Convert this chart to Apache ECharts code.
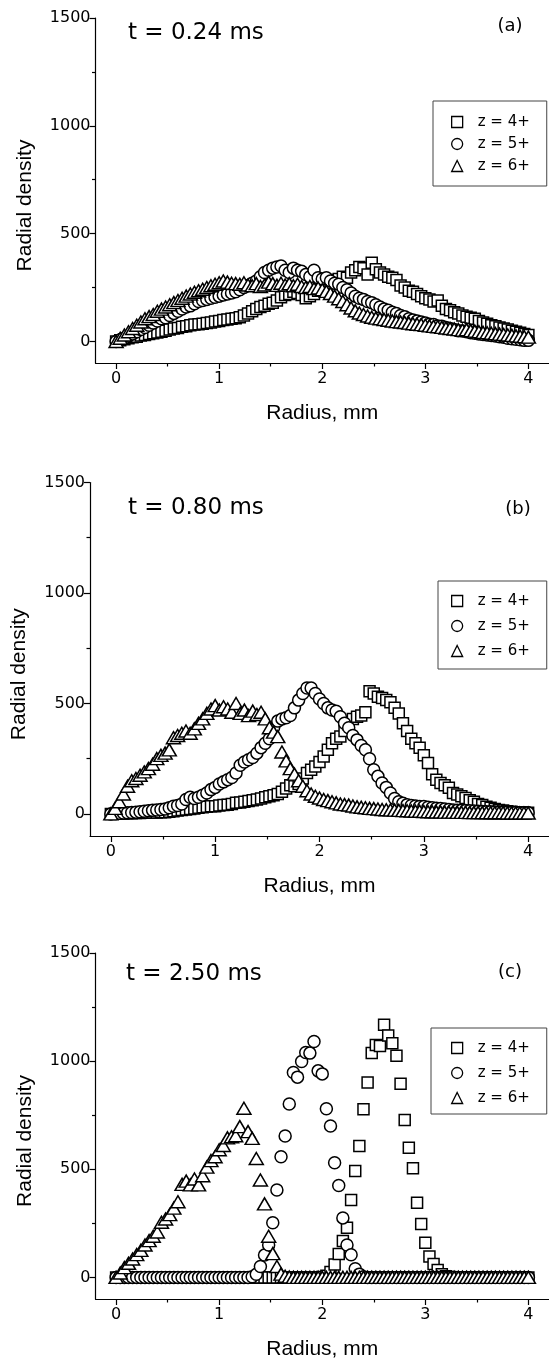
<!DOCTYPE html>
<html>
<head>
<meta charset="utf-8">
<script src="https://cdn.jsdelivr.net/npm/echarts@6/dist/echarts.min.js"></script>
<style>
  html, body { margin: 0; padding: 0; background: #fff; }
  #chart { width: 549px; height: 1361px; }
</style>
</head>
<body>
<div id="chart"></div>
<script>
// Sampling radii (mm), shared by every series
const RADIUS = [
  0.00, 0.04, 0.08, 0.12, 0.16, 0.20, 0.24, 0.28, 0.32, 0.36,
  0.40, 0.44, 0.48, 0.52, 0.56, 0.60, 0.64, 0.68, 0.72, 0.76,
  0.80, 0.84, 0.88, 0.92, 0.96, 1.00, 1.04, 1.08, 1.12, 1.16,
  1.20, 1.24, 1.28, 1.32, 1.36, 1.40, 1.44, 1.48, 1.52, 1.56,
  1.60, 1.64, 1.68, 1.72, 1.76, 1.80, 1.84, 1.88, 1.92, 1.96,
  2.00, 2.04, 2.08, 2.12, 2.16, 2.20, 2.24, 2.28, 2.32, 2.36,
  2.40, 2.44, 2.48, 2.52, 2.56, 2.60, 2.64, 2.68, 2.72, 2.76,
  2.80, 2.84, 2.88, 2.92, 2.96, 3.00, 3.04, 3.08, 3.12, 3.16,
  3.20, 3.24, 3.28, 3.32, 3.36, 3.40, 3.44, 3.48, 3.52, 3.56,
  3.60, 3.64, 3.68, 3.72, 3.76, 3.80, 3.84, 3.88, 3.92, 3.96,
  4.00
];

const SERIES_NAMES = ['z = 4+', 'z = 5+', 'z = 6+'];
const TIMES = ['t = 0.24 ms', 't = 0.80 ms', 't = 2.50 ms'];
const PANEL_TAGS = ['(a)', '(b)', '(c)'];

const X_TICKS = [0, 1, 2, 3, 4];
const X_MINOR = [0.5, 1.5, 2.5, 3.5];
const Y_TICKS = [0, 500, 1000, 1500];
const Y_MINOR = [250, 750, 1250];

// ---- t = 0.24 ms ----
const A_Z4 = [
  0, 5, 10, 15, 20, 22, 28, 30, 35, 38,
  42, 45, 50, 55, 60, 62, 68, 70, 75, 78,
  80, 82, 85, 88, 92, 95, 100, 102, 105, 108,
  112, 120, 130, 140, 150, 160, 165, 175, 180, 190,
  205, 215, 220, 230, 225, 215, 200, 210, 220, 235,
  240, 255, 270, 285, 290, 300, 295, 320, 330, 345,
  340, 310, 365, 335, 320, 310, 300, 295, 285, 260,
  250, 235, 230, 220, 210, 200, 195, 185, 190, 165,
  150, 145, 135, 130, 120, 115, 110, 105, 95, 88,
  82, 75, 70, 65, 60, 55, 50, 45, 40, 35,
  30
];
const A_Z5 = [
  0, 8, 15, 25, 35, 45, 55, 65, 75, 85,
  95, 105, 110, 120, 130, 140, 150, 160, 165, 175,
  185, 190, 195, 200, 205, 210, 215, 220, 225, 230,
  240, 250, 260, 270, 280, 300, 320, 330, 340, 345,
  350, 330, 320, 340, 330, 325, 310, 300, 330, 295,
  290, 295, 280, 270, 265, 250, 240, 225, 210, 200,
  195, 185, 180, 170, 160, 150, 145, 135, 130, 120,
  115, 105, 100, 95, 90, 85, 80, 78, 72, 70,
  65, 60, 55, 50, 48, 45, 40, 38, 35, 32,
  30, 28, 25, 22, 20, 15, 12, 10, 8, 5,
  5
];
const A_Z6 = [
  0, 15, 30, 45, 60, 75, 90, 105, 115, 125,
  140, 150, 160, 170, 180, 190, 200, 210, 220, 228,
  235, 242, 250, 258, 265, 272, 280, 275, 270, 268,
  265, 272, 262, 258, 268, 255, 262, 275, 268, 260,
  270, 262, 268, 258, 265, 255, 250, 255, 245, 248,
  240, 232, 222, 210, 198, 185, 170, 155, 142, 132,
  125, 118, 112, 108, 105, 102, 98, 95, 92, 90,
  88, 85, 82, 80, 78, 75, 72, 70, 68, 65,
  62, 60, 58, 55, 52, 55, 50, 48, 45, 42,
  40, 38, 36, 34, 32, 30, 28, 26, 24, 22,
  20
];

// ---- t = 0.80 ms ----
const B_Z4 = [
  0, 1, 2, 2, 3, 3, 4, 4, 5, 5,
  6, 6, 7, 8, 10, 12, 15, 18, 20, 22,
  25, 28, 30, 32, 35, 35, 38, 40, 42, 45,
  50, 52, 55, 58, 62, 65, 70, 75, 80, 85,
  90, 100, 115, 130, 125, 135, 160, 185, 200, 215,
  235, 260, 290, 320, 340, 350, 375, 405, 430, 440,
  445, 460, 555, 545, 530, 525, 515, 505, 480, 455,
  410, 375, 340, 320, 300, 265, 230, 180, 155, 140,
  130, 118, 95, 88, 80, 72, 62, 55, 45, 40,
  32, 28, 22, 18, 15, 12, 10, 8, 7, 6,
  5
];
const B_Z5 = [
  0, 2, 3, 4, 5, 6, 8, 10, 12, 14,
  16, 18, 20, 22, 28, 35, 38, 45, 65, 75,
  70, 75, 85, 95, 110, 120, 135, 145, 155, 165,
  185, 220, 235, 245, 255, 275, 300, 320, 340, 390,
  420, 430, 435, 445, 480, 515, 545, 570, 570, 545,
  520, 500, 480, 470, 465, 440, 410, 390, 355, 335,
  310, 290, 250, 200, 170, 140, 120, 95, 70, 55,
  48, 42, 38, 36, 34, 33, 30, 28, 26, 24,
  22, 20, 18, 17, 16, 15, 14, 13, 12, 11,
  10, 10, 9, 8, 8, 7, 6, 6, 5, 5,
  5
];
const B_Z6 = [
  0, 25, 55, 90, 125, 150, 160, 175, 190, 205,
  225, 250, 265, 275, 290, 345, 355, 365, 375, 365,
  385, 410, 430, 455, 475, 490, 470, 485, 475, 460,
  500, 455, 470, 445, 465, 450, 460, 430, 390, 370,
  350, 280, 240, 205, 180, 150, 125, 105, 90, 80,
  72, 65, 60, 55, 50, 45, 42, 40, 36, 32,
  30, 28, 25, 24, 22, 20, 19, 18, 17, 16,
  15, 14, 13, 12, 12, 11, 10, 10, 9, 9,
  8, 8, 8, 7, 7, 7, 6, 6, 6, 6,
  5, 5, 5, 5, 5, 4, 4, 4, 4, 4,
  4
];

// ---- t = 2.50 ms ----
const C_Z4 = [
  0, 0, 0, 0, 0, 0, 0, 0, 0, 0,
  0, 0, 0, 0, 0, 0, 0, 0, 0, 0,
  0, 0, 0, 0, 0, 0, 0, 0, 0, 0,
  0, 0, 0, 0, 0, 0, 0, 0, 0, 0,
  0, 0, 0, 0, 0, 0, 0, 0, 0, 0,
  2, 8, 25, 60, 108, 168, 230, 358, 492, 608,
  778, 901, 1037, 1075, 1070, 1168, 1118, 1083, 1025, 895,
  728, 600, 505, 345, 247, 160, 96, 62, 34, 15,
  5, 2, 0, 0, 0, 0, 0, 0, 0, 0,
  0, 0, 0, 0, 0, 0, 0, 0, 0, 0,
  0
];
const C_Z5 = [
  0, 0, 0, 0, 0, 0, 0, 0, 0, 0,
  0, 0, 0, 0, 0, 0, 0, 0, 0, 0,
  0, 0, 0, 0, 0, 0, 0, 0, 0, 0,
  0, 0, 0, 3, 14, 50, 103, 150, 253, 404,
  558, 654, 802, 947, 926, 998, 1040, 1037, 1091, 955,
  941, 780, 700, 530, 425, 275, 150, 105, 40, 15,
  3, 0, 0, 0, 0, 0, 0, 0, 0, 0,
  0, 0, 0, 0, 0, 0, 0, 0, 0, 0,
  0, 0, 0, 0, 0, 0, 0, 0, 0, 0,
  0, 0, 0, 0, 0, 0, 0, 0, 0, 0,
  0
];
const C_Z6 = [
  0, 20, 45, 65, 85, 105, 125, 150, 170, 190,
  210, 255, 270, 290, 320, 350, 430, 445, 428, 455,
  428, 470, 510, 540, 558, 590, 610, 645, 650, 655,
  697, 782, 674, 643, 550, 450, 340, 190, 110, 50,
  15, 5, 2, 0, 0, 0, 0, 0, 0, 0,
  0, 0, 0, 0, 0, 0, 0, 0, 0, 0,
  0, 0, 0, 0, 0, 0, 0, 0, 0, 0,
  0, 0, 0, 0, 0, 0, 0, 0, 0, 0,
  0, 0, 0, 0, 0, 0, 0, 0, 0, 0,
  0, 0, 0, 0, 0, 0, 0, 0, 0, 0,
  0
];

const PANELS = [
  [A_Z4, A_Z5, A_Z6],
  [B_Z4, B_Z5, B_Z6],
  [C_Z4, C_Z5, C_Z6]
];

// ---- layout ----
const GRIDS = [
  { left: 95.5, top: 18, height: 345 },
  { left: 90, top: 482.5, height: 353.5 },
  { left: 95.5, top: 953, height: 346.5 }
];
const LEGEND_BOXES = [
  { left: 433, top: 101, padding: [13, 17, 12, 18], gap: 6 },
  { left: 438, top: 581, padding: [12, 17, 10, 13], gap: 9 },
  { left: 431, top: 1028, padding: [12, 17, 8, 20], gap: 9 }
];
const TEXT_FONT = 'DejaVu Sans';
const NAME_FONT = 'Liberation Sans';
const SYMBOLS = ['rect', 'circle', 'triangle'];
const SYMBOL_SIZES = [11, 12, [14, 12]];
const INK = '#000';
const plain = v => String(v);

const chart = echarts.init(document.getElementById('chart'), null, { renderer: 'canvas' });

const grid = GRIDS.map(g => ({ left: g.left, top: g.top, right: 0, height: g.height }));

const xAxis = [];
const yAxis = [];
GRIDS.forEach((g, i) => {
  xAxis.push({
    type: 'value', gridIndex: i, min: -0.2, max: 4.2,
    axisLine: { show: true, onZero: false, lineStyle: { color: INK, width: 1.2 } },
    axisTick: { show: true, length: 6, customValues: X_TICKS, lineStyle: { color: INK, width: 1.2 } },
    axisLabel: { customValues: X_TICKS, formatter: plain, margin: 8, color: INK, fontFamily: TEXT_FONT, fontSize: 16 },
    splitLine: { show: false },
    name: 'Radius, mm', nameLocation: 'middle', nameGap: 40,
    nameTextStyle: { color: INK, fontFamily: NAME_FONT, fontSize: 21 }
  });
  yAxis.push({
    type: 'value', gridIndex: i, min: -100, max: 1500,
    axisLine: { show: true, onZero: false, lineStyle: { color: INK, width: 1.2 } },
    axisTick: { show: true, length: 6, customValues: Y_TICKS, lineStyle: { color: INK, width: 1.2 } },
    axisLabel: { customValues: Y_TICKS, formatter: plain, margin: 5, color: INK, fontFamily: TEXT_FONT, fontSize: 16 },
    splitLine: { show: false },
    name: 'Radial density', nameLocation: 'middle', nameGap: 60,
    nameTextStyle: { color: INK, fontFamily: NAME_FONT, fontSize: 21, padding: [0, 30, 0, 0] }
  });
});
// minor ticks drawn by overlaid axes
GRIDS.forEach((g, i) => {
  xAxis.push({
    type: 'value', gridIndex: i, min: -0.2, max: 4.2, position: 'bottom',
    axisLine: { show: false, onZero: false },
    axisTick: { show: true, length: 3.5, customValues: X_MINOR, lineStyle: { color: INK, width: 1.2 } },
    axisLabel: { show: false }, splitLine: { show: false }
  });
  yAxis.push({
    type: 'value', gridIndex: i, min: -100, max: 1500, position: 'left',
    axisLine: { show: false, onZero: false },
    axisTick: { show: true, length: 3.5, customValues: Y_MINOR, lineStyle: { color: INK, width: 1.2 } },
    axisLabel: { show: false }, splitLine: { show: false }
  });
});

const series = [];
PANELS.forEach((sets, p) => {
  sets.forEach((vals, k) => {
    series.push({
      type: 'scatter', name: SERIES_NAMES[k],
      xAxisIndex: p, yAxisIndex: p,
      symbol: SYMBOLS[k], symbolSize: SYMBOL_SIZES[k],
      itemStyle: { color: '#fff', borderColor: INK, borderWidth: 1.5, opacity: 1 },
      emphasis: { disabled: true },
      data: RADIUS.map((r, j) => [r, vals[j]])
    });
  });
});

const legend = LEGEND_BOXES.map(b => ({
  orient: 'vertical', left: b.left, top: b.top, padding: b.padding,
  itemWidth: 11, itemHeight: 11, itemGap: b.gap,
  borderColor: '#444', borderWidth: 1, borderRadius: 0,
  selectedMode: false,
  itemStyle: { borderWidth: 1.3 },
  textStyle: { color: INK, fontFamily: TEXT_FONT, fontSize: 15, lineHeight: 16, padding: [0, 0, 0, 10] },
  data: SERIES_NAMES
}));

const graphic = [];
const TITLE_POS = [[128, 33], [128, 508.5], [126, 974]];
const TAG_POS = [[510, 26], [518, 509], [510, 972.5]];
TIMES.forEach((t, i) => {
  graphic.push({
    type: 'text', x: TITLE_POS[i][0], y: TITLE_POS[i][1],
    style: { text: t, fill: INK, font: '23px "DejaVu Sans"', textAlign: 'left', textVerticalAlign: 'middle' }
  });
  graphic.push({
    type: 'text', x: TAG_POS[i][0], y: TAG_POS[i][1],
    style: { text: PANEL_TAGS[i], fill: INK, font: '18px "DejaVu Sans"', textAlign: 'center', textVerticalAlign: 'middle' }
  });
});

chart.setOption({
  animation: false,
  backgroundColor: '#fff',
  grid, xAxis, yAxis, series, legend, graphic
});
</script>
</body>
</html>
